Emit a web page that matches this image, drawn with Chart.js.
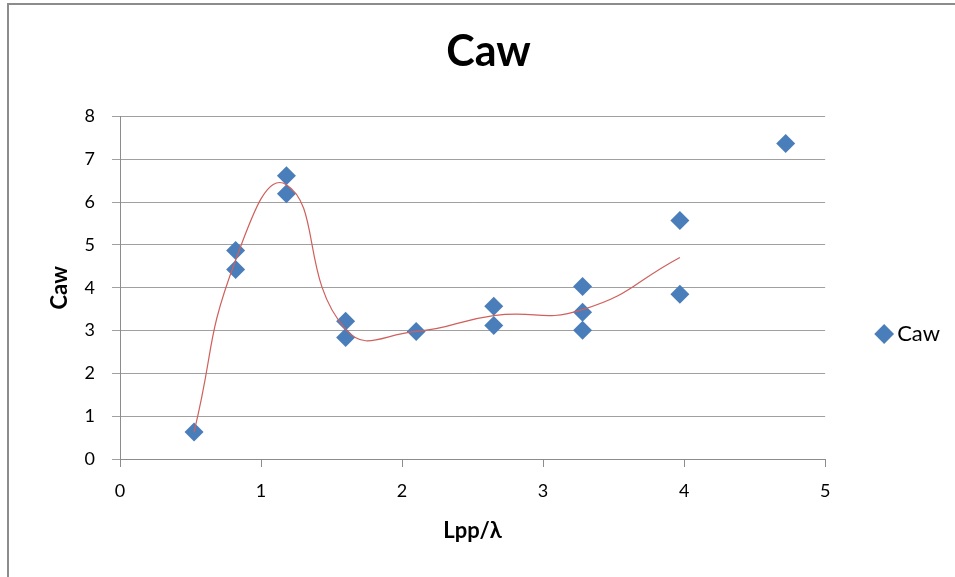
<!DOCTYPE html>
<html>
<head>
<meta charset="utf-8">
<script src="https://cdn.jsdelivr.net/npm/chart.js@4"></script>
<style>
    body { margin: 0; background: #fff; }
    #frame { position: absolute; left: 7px; top: 3px; width: 1000px; height: 1000px; border: 2px solid #8c8c8c; }
    #wrap { position: absolute; left: 0; top: 0; width: 955px; height: 577px; }
</style>
</head>
<body>
<div id="frame"></div>
<div id="wrap"><canvas id="chart" width="955" height="577"></canvas></div>
<script>
// Measured points (Lpp/lambda vs Caw)
const xVals = [0.525, 0.82, 0.82, 1.18, 1.18, 1.60, 1.60, 2.10, 2.65, 2.65, 3.28, 3.28, 3.28, 3.97, 3.97, 4.72];
const yVals = [0.63, 4.87, 4.43, 6.62, 6.20, 3.22, 2.84, 2.98, 3.57, 3.12, 4.03, 3.43, 3.01, 5.57, 3.85, 7.37];

// Smoothed red curve nodes
const lineX = [0.525, 0.82, 1.18, 1.60, 2.10, 2.65, 3.28, 3.97];
const lineY = [0.63, 4.65, 6.41, 3.03, 2.98, 3.35, 3.49, 4.71];

const seriesName = 'Caw';
const chartTitle = 'Caw';
const xTitle = 'Lpp/λ';
const yTitle = 'Caw';

const FONT = 'Lato, "Open Sans", sans-serif';

const points = xVals.map((x, i) => ({ x: x, y: yVals[i] }));
const curve = lineX.map((x, i) => ({ x: x, y: lineY[i] }));

// nudge legend and title to where Excel puts them
const boxShift = {
    id: 'boxShift',
    afterLayout(chart) {
        const lg = chart.legend;
        if (lg) {
            lg.left += 47;
            lg.right += 47;
            lg.top += 101;
        }
        const t = chart.titleBlock;
        if (t) {
            t.left += 17;
            t.right += 17;
        }
    }
};

new Chart(document.getElementById('chart').getContext('2d'), {
    type: 'scatter',
    data: {
        datasets: [
            {
                label: seriesName,
                data: points,
                pointStyle: 'rectRot',
                pointRadius: 9.5,
                pointHoverRadius: 9.5,
                backgroundColor: '#4a7ebb',
                borderColor: '#4a7ebb',
                borderWidth: 0,
                order: 2
            },
            {
                label: 'trend',
                data: curve,
                showLine: true,
                pointRadius: 0,
                borderColor: '#d0605c',
                borderWidth: 1.2,
                tension: 0.5,
                fill: false,
                order: 1
            }
        ]
    },
    plugins: [boxShift],
    options: {
        responsive: false,
        animation: false,
        layout: { padding: { top: 10, left: 40, right: 52, bottom: 20 } },
        plugins: {
            title: {
                display: true,
                text: chartTitle,
                color: '#000',
                font: { family: FONT, size: 43, weight: 'bold' },
                padding: { top: 16, bottom: 39 }
            },
            legend: {
                position: 'right',
                labels: {
                    filter: item => item.text === seriesName,
                    usePointStyle: true,
                    pointStyle: 'rectRot',
                    boxWidth: 4,
                    boxHeight: 14,
                    color: '#000',
                    font: { family: FONT, size: 22 },
                    padding: 10
                }
            },
            tooltip: { enabled: false }
        },
        scales: {
            x: {
                type: 'linear',
                min: 0,
                max: 5,
                ticks: { stepSize: 1, color: '#000', font: { family: FONT, size: 18 }, padding: 13 },
                grid: { drawOnChartArea: false, drawTicks: true, tickLength: 8, color: '#8c8c8c' },
                border: { color: '#8c8c8c', width: 1 },
                title: { display: true, text: xTitle, color: '#000', font: { family: FONT, size: 22, weight: 'bold' }, padding: { top: 12, bottom: 13 } },
                afterFit: scale => { scale.height = 98; }
            },
            y: {
                min: 0,
                max: 8,
                ticks: { stepSize: 1, color: '#000', font: { family: FONT, size: 18 }, padding: 17 },
                grid: { color: '#a0a0a0', tickLength: 8 },
                border: { color: '#8c8c8c', width: 1 },
                title: { display: true, text: yTitle, color: '#000', font: { family: FONT, size: 22, weight: 'bold' }, padding: { top: 7, bottom: 8 } },
                afterFit: scale => { scale.width = 80; }
            }
        }
    }
});
</script>
</body>
</html>
